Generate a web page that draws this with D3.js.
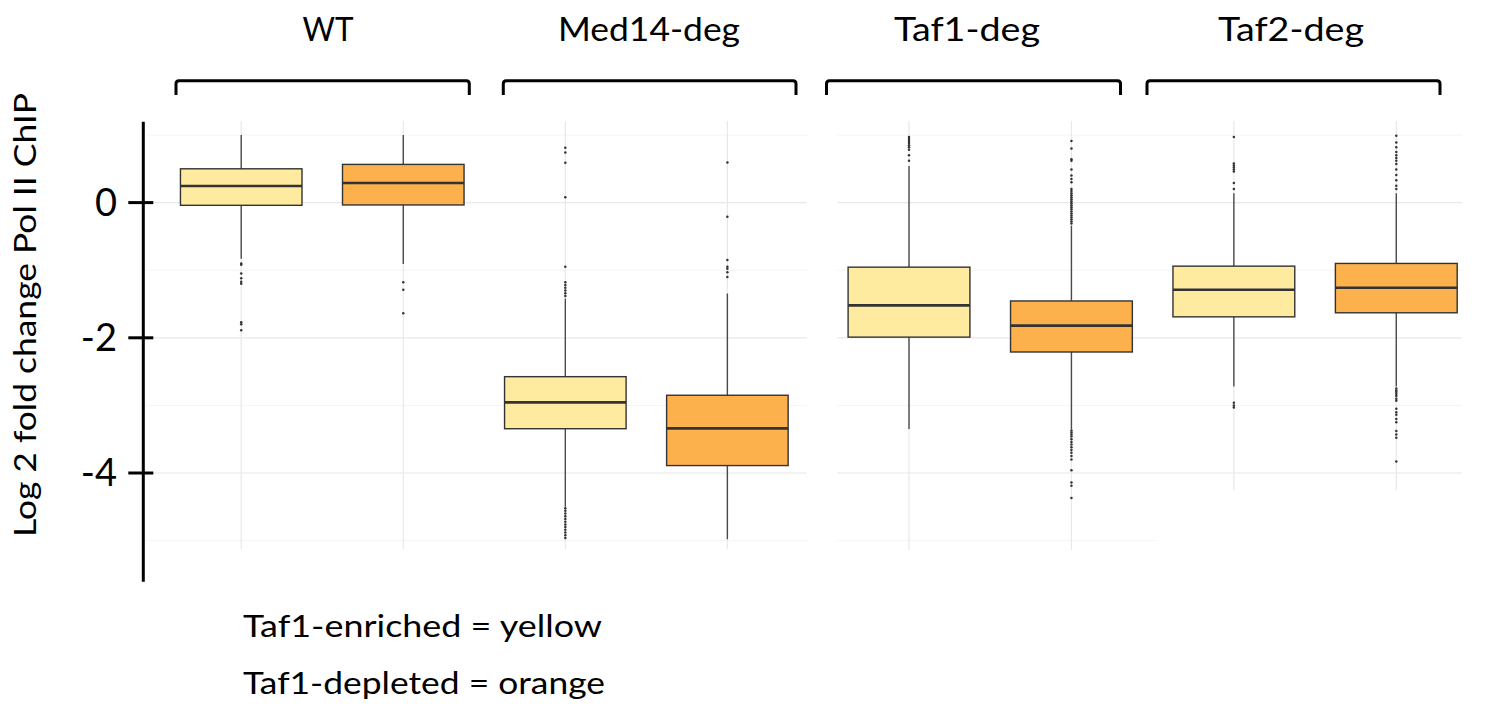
<!DOCTYPE html>
<html>
<head>
<meta charset="utf-8">
<script src="https://cdn.jsdelivr.net/npm/d3@7"></script>
<style>
  html, body { margin: 0; padding: 0; background: #ffffff; }
  svg { display: block; }
  text { font-family: Lato, "Open Sans", "Noto Sans", sans-serif; fill: #000; }
</style>
</head>
<body>
<svg id="chart" width="1491" height="720"></svg>
<script>
// Strains (one bracket each) and gene classes (one box per class within a strain)
const groups = ["WT", "Med14-deg", "Taf1-deg", "Taf2-deg"];
const classes = ["Taf1-enriched", "Taf1-depleted"];
const classNames = ["yellow", "orange"];

// Box statistics, ordered WT-enriched, WT-depleted, Med14-enriched, Med14-depleted, ...
const whiskerHigh = [1.00, 1.00, -1.42, -1.345, 0.54, -0.34, 0.14, 0.14];
const upperQuartile = [0.50, 0.565, -2.575, -2.85, -0.955, -1.455, -0.94, -0.90];
const medians = [0.245, 0.29, -2.955, -3.34, -1.52, -1.82, -1.29, -1.26];
const lowerQuartile = [-0.04, -0.035, -3.345, -3.89, -1.99, -2.21, -1.69, -1.63];
const whiskerLow = [-0.83, -0.91, -4.50, -4.98, -3.35, -3.35, -2.72, -2.72];

const outliers = [
  [-0.90, -0.92, -1.05, -1.12, -1.17, -1.20, -1.77, -1.80, -1.89],
  [-1.18, -1.29, -1.635],
  [0.81, 0.74, 0.59, 0.08, -0.95, -1.18, -1.22, -1.26, -1.30, -1.34, -1.38,
   -4.52, -4.56, -4.60, -4.64, -4.68, -4.72, -4.76, -4.80, -4.84, -4.88, -4.92, -4.96],
  [0.595, -0.21, -0.85, -0.95, -0.98, -1.03, -1.10],
  [0.97, 0.94, 0.91, 0.88, 0.85, 0.82, 0.78, 0.70, 0.62],
  [0.91, 0.80, 0.64, 0.62, 0.49, 0.40, 0.35, 0.30, 0.20, 0.17, 0.14, 0.11, 0.08, 0.05,
   0.02, -0.01, -0.04, -0.07, -0.10, -0.13, -0.16, -0.19, -0.22, -0.25, -0.28, -0.31,
   -3.37, -3.40, -3.43, -3.46, -3.50, -3.54, -3.58, -3.62, -3.66, -3.70, -3.75, -3.80,
   -3.96, -4.14, -4.19, -4.37],
  [0.97, 0.58, 0.55, 0.52, 0.49, 0.46, 0.29, 0.20, -2.96, -3.00, -3.03],
  [0.99, 0.89, 0.82, 0.75, 0.70, 0.66, 0.62, 0.57, 0.49, 0.41, 0.33, 0.25, 0.20,
   -2.75, -2.78, -2.80, -2.83, -2.86, -2.90, -2.93, -3.05, -3.10, -3.14, -3.20, -3.25,
   -3.38, -3.43, -3.48, -3.83]
];

const yTicks = [0, -2, -4];
const yGrid = [1, 0, -1, -2, -3, -4, -5];
const yTitle = "Log 2 fold change Pol II ChIP";
const legendLines = ["Taf1-enriched = yellow", "Taf1-depleted = orange"];

// ---- styling ----
const fills = { "Taf1-enriched": "#FFEBA0", "Taf1-depleted": "#FCB14D" };
const majorGrid = "#e8e8e8";
const minorGrid = "#f4f4f4";

// ---- assemble boxes ----
const boxes = [];
groups.forEach((g, gi) => {
  classes.forEach((c, ci) => {
    const i = gi * 2 + ci;
    boxes.push({
      key: g + "|" + c, group: g, cls: c,
      hi: whiskerHigh[i], q3: upperQuartile[i], med: medians[i],
      q1: lowerQuartile[i], lo: whiskerLow[i], out: outliers[i]
    });
  });
});

const svg = d3.select("#chart");

const y = d3.scaleLinear().domain([1, -5]).range([135, 540.6]);

// two plot blocks: WT + Med14-deg on the left, Taf1-deg + Taf2-deg on the right
const xLeft = d3.scaleBand().domain(boxes.slice(0, 4).map(d => d.key)).range([160.2, 808.4]).padding(0);
const xRight = d3.scaleBand().domain(boxes.slice(4).map(d => d.key)).range([827.8, 1477.5]).padding(0);
const scaleFor = k => (xLeft.domain().includes(k) ? xLeft : xRight);
const cx = k => scaleFor(k)(k) + scaleFor(k).bandwidth() / 2;

// panel backgrounds with their own extents
const panels = [
  { keys: boxes.slice(0, 4).map(d => d.key), x0: 146, x1: 807, vBottom: 549, grid: yGrid },
  { keys: boxes.slice(4, 6).map(d => d.key), x0: 837, x1: 1157, vBottom: 550, grid: yGrid },
  { keys: boxes.slice(6, 8).map(d => d.key), x0: 1157, x1: 1462, vBottom: 490, grid: yGrid.filter(v => v >= -4) }
];

const gridG = svg.append("g");
panels.forEach(p => {
  gridG.selectAll(null).data(p.grid).enter().append("line")
    .attr("x1", p.x0).attr("x2", p.x1)
    .attr("y1", d => y(d)).attr("y2", d => y(d))
    .attr("stroke", d => (d % 2 === 0 ? majorGrid : minorGrid))
    .attr("stroke-width", d => (d % 2 === 0 ? 1.2 : 1));
  gridG.selectAll(null).data(p.keys).enter().append("line")
    .attr("x1", k => cx(k)).attr("x2", k => cx(k))
    .attr("y1", 121).attr("y2", p.vBottom)
    .attr("stroke", majorGrid).attr("stroke-width", 1.2);
});

// ---- boxplots ----
const boxG = svg.append("g").selectAll("g").data(boxes).enter().append("g")
  .attr("transform", d => `translate(${cx(d.key)},0)`);
const halfW = d => 0.375 * scaleFor(d.key).bandwidth();

boxG.append("line").attr("x1", 0).attr("x2", 0)
  .attr("y1", d => y(d.hi)).attr("y2", d => y(d.q3))
  .attr("stroke", "#4a4a4a").attr("stroke-width", 1.4);
boxG.append("line").attr("x1", 0).attr("x2", 0)
  .attr("y1", d => y(d.q1)).attr("y2", d => y(d.lo))
  .attr("stroke", "#4a4a4a").attr("stroke-width", 1.4);

boxG.append("rect")
  .attr("x", d => -halfW(d))
  .attr("width", d => 2 * halfW(d))
  .attr("y", d => y(d.q3))
  .attr("height", d => y(d.q1) - y(d.q3))
  .attr("fill", d => fills[d.cls])
  .attr("stroke", "#333").attr("stroke-width", 1.4);

boxG.append("line")
  .attr("x1", d => -halfW(d)).attr("x2", d => halfW(d))
  .attr("y1", d => y(d.med)).attr("y2", d => y(d.med))
  .attr("stroke", "#333").attr("stroke-width", 2.6);

boxG.selectAll("circle").data(d => d.out).enter().append("circle")
  .attr("cx", 0).attr("cy", v => y(v)).attr("r", 1.25)
  .attr("fill", "#333");

// ---- y axis ----
const axisG = svg.append("g");
axisG.append("line").attr("x1", 143.3).attr("x2", 143.3)
  .attr("y1", 121.7).attr("y2", 581.7)
  .attr("stroke", "#000").attr("stroke-width", 3);
axisG.selectAll(".tick").data(yTicks).enter().append("line")
  .attr("x1", 128.3).attr("x2", 153.3)
  .attr("y1", d => y(d)).attr("y2", d => y(d))
  .attr("stroke", "#000").attr("stroke-width", 3);
axisG.selectAll(".lbl").data(yTicks).enter().append("text")
  .attr("x", 117).attr("y", d => y(d))
  .attr("dy", "0.35em")
  .attr("text-anchor", "end")
  .style("font-size", "38px")
  .text(d => d3.format("d")(d).replace("−", "-"));

svg.append("text")
  .attr("transform", "translate(36,315) rotate(-90)")
  .attr("text-anchor", "middle")
  .attr("textLength", 444).attr("lengthAdjust", "spacingAndGlyphs")
  .style("font-size", "31px")
  .text(yTitle);

// ---- strain brackets and titles ----
const brackets = [
  { label: groups[0], x0: 176, x1: 469.3, tx: 328, w: 51 },
  { label: groups[1], x0: 503.3, x1: 796, tx: 649, w: 182 },
  { label: groups[2], x0: 826.5, x1: 1120.5, tx: 967, w: 146 },
  { label: groups[3], x0: 1147, x1: 1440, tx: 1291, w: 146 }
];
const bTop = 80.7, bBottom = 95, r = 3;
svg.append("g").selectAll("path").data(brackets).enter().append("path")
  .attr("d", b => `M${b.x0},${bBottom} L${b.x0},${bTop + r} Q${b.x0},${bTop} ${b.x0 + r},${bTop} L${b.x1 - r},${bTop} Q${b.x1},${bTop} ${b.x1},${bTop + r} L${b.x1},${bBottom}`)
  .attr("fill", "none").attr("stroke", "#000").attr("stroke-width", 3);
svg.append("g").selectAll("text").data(brackets).enter().append("text")
  .attr("x", b => b.tx).attr("y", 40.5)
  .attr("text-anchor", "middle")
  .attr("textLength", b => b.w).attr("lengthAdjust", "spacingAndGlyphs")
  .style("font-size", "33px")
  .text(b => b.label);

// ---- class key ----
svg.append("g").selectAll("text").data(legendLines).enter().append("text")
  .attr("x", 243).attr("y", (d, i) => 637 + i * 57)
  .attr("textLength", (d, i) => (i === 0 ? 359 : 362)).attr("lengthAdjust", "spacingAndGlyphs")
  .style("font-size", "31px")
  .text(d => d);
</script>
</body>
</html>
